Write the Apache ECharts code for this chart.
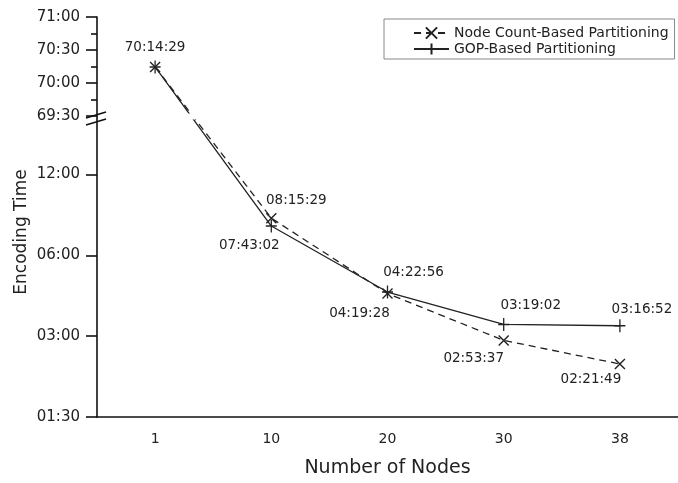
<!DOCTYPE html>
<html><head><meta charset="utf-8">
<script src="https://cdn.jsdelivr.net/npm/echarts@6/dist/echarts.min.js"></script>
<style>html,body{margin:0;padding:0;background:#fff}#c{width:678px;height:483px}</style>
</head><body><div id="c"></div>
<script>
// ---- data ----
const categories = ['1', '10', '20', '30', '38'];
const nodeCountTimes = ['70:14:29', '08:15:29', '04:19:28', '02:53:37', '02:21:49'];
const gopTimes = ['70:14:29', '07:43:02', '04:22:56', '03:19:02', '03:16:52'];
const yMajorTicks = ['01:30', '03:00', '06:00', '12:00', '69:30', '70:00', '70:30', '71:00'];
const yMinorTicks = ['69:45', '70:15', '70:45'];
const seriesNames = ['Node Count-Based Partitioning', 'GOP-Based Partitioning'];

// ---- broken y axis: log scale below the break, linear above ----
function toSec(t) { const p = t.split(':').map(Number); return p[0] * 3600 + p[1] * 60 + (p[2] || 0); }
const LOWER_MIN = toSec('01:30'), LOWER_MAX = toSec('18:00');
const UPPER_MIN = toSec('69:30'), UPPER_MAX = toSec('71:00');
const LOWER_TOP = Math.log2(LOWER_MAX / LOWER_MIN);
const GAP = 0.143, UPPER_SPAN = 1.222;
const Y_MAX = LOWER_TOP + GAP + UPPER_SPAN;
function axisPos(s) {
  return s <= LOWER_MAX ? Math.log2(s / LOWER_MIN)
    : LOWER_TOP + GAP + (s - UPPER_MIN) / (UPPER_MAX - UPPER_MIN) * UPPER_SPAN;
}
const majorPos = yMajorTicks.map(t => axisPos(toSec(t)));
const minorPos = yMinorTicks.map(t => axisPos(toSec(t)));
function tickLabel(v) {
  let best = 0, d = 1e9;
  majorPos.forEach((p, i) => { if (Math.abs(p - v) < d) { d = Math.abs(p - v); best = i; } });
  return yMajorTicks[best];
}

// ---- label placement (style only) ----
const ncLabelStyle = [
  { show: false },
  { position: 'top', offset: [25, 0] },
  { position: 'bottom', offset: [-28, 2] },
  { position: 'bottom', offset: [-30, 0] },
  { position: 'bottom', offset: [-29, -2] }
];
const gopLabelStyle = [
  { position: 'top', offset: [0, 0] },
  { position: 'bottom', offset: [-22, 0] },
  { position: 'top', offset: [26, 0] },
  { position: 'top', offset: [27, 0] },
  { position: 'top', offset: [22, 3] }
];

const FONT = 'DejaVu Sans';
const INK = '#222';

function buildData(times, styles) {
  return times.map((t, i) => ({
    value: axisPos(toSec(t)),
    label: Object.assign({ formatter: t }, styles[i])
  }));
}

const chart = echarts.init(document.getElementById('c'), null, { renderer: 'canvas' });
const GRID_LEFT = 97;
chart.setOption({
  animation: false,
  backgroundColor: '#fff',
  textStyle: { fontFamily: FONT },
  grid: { left: GRID_LEFT, right: -9, top: 17, bottom: 65 },
  legend: {
    data: seriesNames,
    orient: 'vertical',
    left: 384, top: 19,
    itemWidth: 35, itemHeight: 14, itemGap: 2,
    padding: [7, 6, 3, 29],
    borderColor: '#888', borderWidth: 1, backgroundColor: '#fff',
    textStyle: { fontSize: 14, color: INK, fontFamily: FONT }
  },
  xAxis: {
    type: 'category',
    data: categories,
    boundaryGap: true,
    axisLine: { lineStyle: { color: '#111', width: 1.6 } },
    axisTick: { alignWithLabel: true, length: 8, lineStyle: { color: '#111', width: 1.6 } },
    axisLabel: { margin: 15, fontSize: 14, color: INK, fontFamily: FONT },
    splitLine: { show: false },
    name: 'Number of Nodes',
    nameLocation: 'middle',
    nameGap: 42,
    nameTextStyle: { fontSize: 19, color: INK, fontFamily: FONT }
  },
  yAxis: [{
    type: 'value',
    min: 0, max: Y_MAX,
    axisLine: { show: true, lineStyle: { color: '#111', width: 1.6 } },
    axisTick: { show: true, customValues: majorPos, length: 11, lineStyle: { color: '#111', width: 1.6 } },
    axisLabel: { customValues: majorPos, formatter: v => tickLabel(v), margin: 17, fontSize: 15, color: INK, fontFamily: FONT },
    splitLine: { show: false }
  }, {
    type: 'value',
    position: 'left',
    min: 0, max: Y_MAX,
    axisLine: { show: false },
    axisTick: { show: true, customValues: minorPos, length: 6, lineStyle: { color: '#111', width: 1.6 } },
    axisLabel: { show: false },
    splitLine: { show: false }
  }],
  series: [{
    name: seriesNames[0],
    type: 'line',
    data: buildData(nodeCountTimes, ncLabelStyle),
    symbol: 'path://M0,0L10,10M10,0L0,10',
    symbolSize: 10,
    lineStyle: { color: INK, width: 1.3, type: [7, 5] },
    itemStyle: { color: INK, borderColor: INK, borderWidth: 1.4 },
    label: { show: true, fontSize: 13.5, color: INK, fontFamily: FONT, distance: 5 },
    z: 3
  }, {
    name: seriesNames[1],
    type: 'line',
    data: buildData(gopTimes, gopLabelStyle),
    symbol: 'path://M0,6L10,6M5,0L5,12',
    symbolSize: [11, 13],
    lineStyle: { color: INK, width: 1.3, type: 'solid' },
    itemStyle: { color: INK, borderColor: INK, borderWidth: 1.4 },
    label: { show: true, fontSize: 13.5, color: INK, fontFamily: FONT, distance: 5 },
    z: 3
  }]
});

// decorations: axis title and break marks
const cy = chart.convertToPixel({ yAxisIndex: 0 }, LOWER_TOP + GAP / 2) - 3;
chart.setOption({
  graphic: [
    { type: 'rect', z: 100, shape: { x: GRID_LEFT + 2, y: cy - 5, width: 600, height: 6 }, style: { fill: '#fff' } },
    { type: 'line', z: 101, shape: { x1: GRID_LEFT - 11, y1: cy - 0.5, x2: GRID_LEFT + 9, y2: cy - 6.5 }, style: { stroke: '#111', lineWidth: 1.6 } },
    { type: 'line', z: 101, shape: { x1: GRID_LEFT - 11, y1: cy + 6.5, x2: GRID_LEFT + 9, y2: cy + 0.5 }, style: { stroke: '#111', lineWidth: 1.6 } },
    { type: 'text', z: 101, x: 22, y: 232, rotation: Math.PI / 2,
      style: { text: 'Encoding Time', fontSize: 17, fontFamily: FONT, fill: INK, align: 'center', verticalAlign: 'middle' } }
  ]
});
</script></body></html>
